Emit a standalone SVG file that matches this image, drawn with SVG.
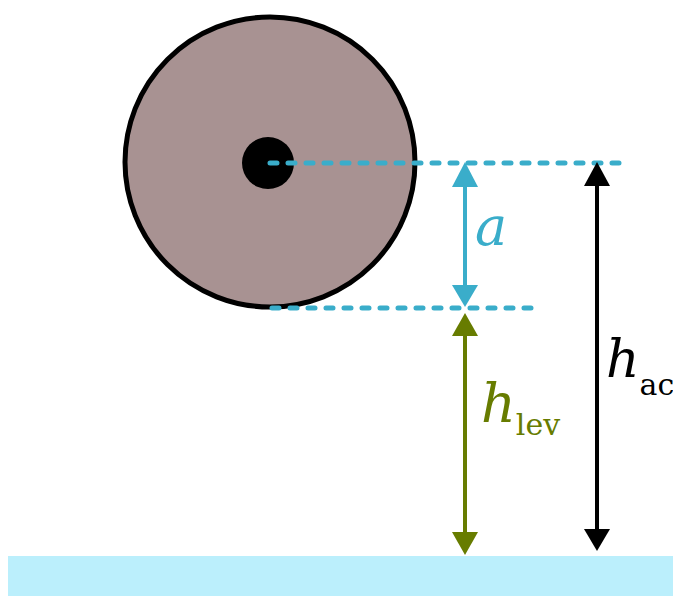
<svg xmlns="http://www.w3.org/2000/svg" width="673" height="596" viewBox="0 0 673 596">
<style>
.dash{stroke:#3AADCA;stroke-width:5;stroke-dasharray:7 11;stroke-linecap:round;fill:none}
text{font-family:'DejaVu Serif','Liberation Serif',serif}
</style>
<rect width="673" height="596" fill="#fff"/>
<g id="ground"><rect x="8" y="556" width="665" height="40" fill="#BBEFFC"/></g>
<g id="ball">
<circle cx="270" cy="162" r="145" fill="#A89292" stroke="#000" stroke-width="5"/>
<circle cx="268" cy="163" r="26" fill="#000"/>
</g>
<g id="connectors">
<line class="dash" x1="270" y1="163" x2="628" y2="163"/>
<line class="dash" x1="272" y1="308" x2="541" y2="308"/>
<g id="arrow-a" fill="#3AADCA">
<line x1="465" y1="180" x2="465" y2="290" stroke="#3AADCA" stroke-width="4"/>
<polygon points="465,162 452,187 478,187"/>
<polygon points="465,307 452,285 478,285"/>
</g>
<g id="arrow-lev" fill="#677C00">
<line x1="465" y1="330" x2="465" y2="538" stroke="#677C00" stroke-width="4"/>
<polygon points="465,313 452,336 478,336"/>
<polygon points="465,555 452,532 478,532"/>
</g>
<g id="arrow-ac" fill="#000">
<line x1="597" y1="180" x2="597" y2="535" stroke="#000" stroke-width="4"/>
<polygon points="597,162 584,186 610,186"/>
<polygon points="597,551 584,529 610,529"/>
</g>
</g>
<g id="label-a"><text x="475" y="245" font-size="54" font-style="italic" fill="#3AADCA">a</text></g>
<g id="label-lev"><text x="481" y="422" fill="#677C00"><tspan font-size="54" font-style="italic">h</tspan><tspan font-size="30" dy="13">lev</tspan></text></g>
<g id="label-ac"><text x="606" y="377" fill="#000"><tspan font-size="52" font-style="italic">h</tspan><tspan font-size="30" dy="18">ac</tspan></text></g>
</svg>
